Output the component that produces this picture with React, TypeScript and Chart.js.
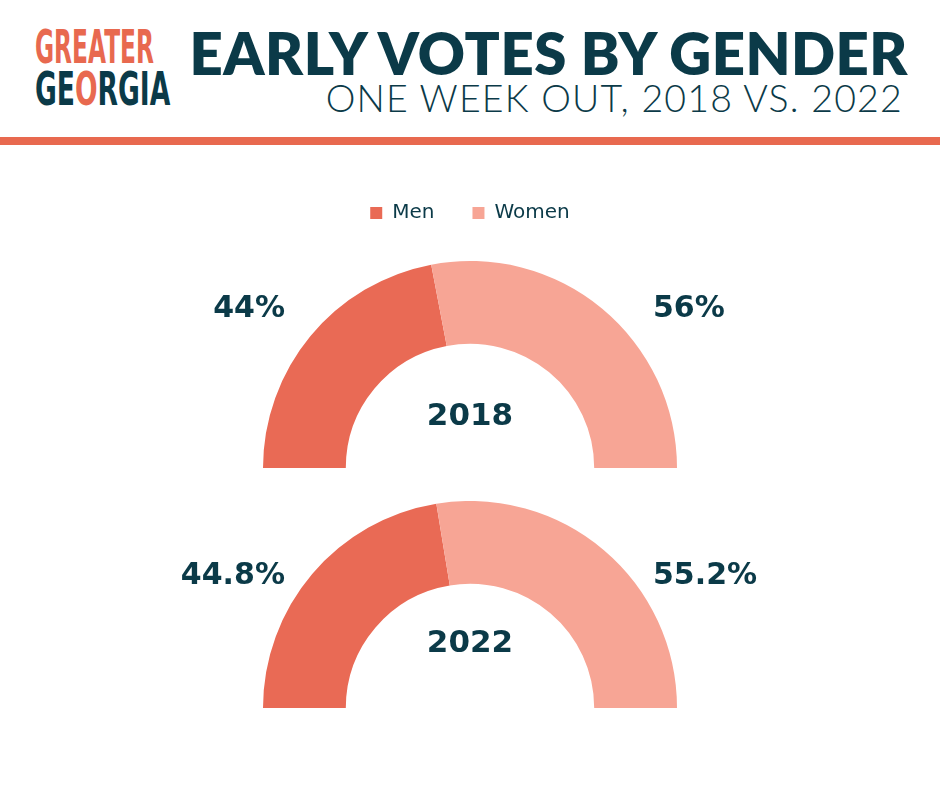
import React, { useEffect, useRef } from "react";
import { Chart, registerables } from "chart.js";

Chart.register(...registerables);

// ---- data ----
const genders = ["Men", "Women"];
const years = ["2018", "2022"];
const share2018 = [44, 56];
const share2022 = [44.8, 55.2];
const seriesColors = ["#e96a55", "#f7a595"];

const TEXT = "#0b3a48";
const ORANGE = "#e8694f";

const labelPlugin = {
  id: "gaugeLabels",
  afterDatasetsDraw(chart: any, _args: any, opts: any) {
    const arc = chart.getDatasetMeta(0).data[0] as any;
    if (!arc) return;
    const { x, y, outerRadius: r } = arc;
    const ctx = chart.ctx;
    const values = chart.data.datasets[0].data as number[];
    ctx.save();
    ctx.fillStyle = TEXT;
    ctx.textBaseline = "middle";
    ctx.font = `bold ${opts.valueSize}px "DejaVu Sans"`;
    const ly = y - opts.valueDy * r;
    ctx.textAlign = "right";
    ctx.fillText(`${values[0]}%`, x - opts.leftDx * r, ly);
    ctx.textAlign = "left";
    ctx.fillText(`${values[1]}%`, x + opts.rightDx * r, ly);
    ctx.textAlign = "center";
    ctx.font = `bold ${opts.yearSize}px "DejaVu Sans"`;
    ctx.fillText(opts.year, x, y - opts.yearDy * r);
    ctx.restore();
  },
};

type GaugeProps = {
  year: string;
  values: number[];
  legend: boolean;
  top: number;
  height: number;
  valueDy: number;
  yearDy: number;
};

function Gauge({ year, values, legend, top, height, valueDy, yearDy }: GaugeProps) {
  const ref = useRef<HTMLCanvasElement>(null);
  useEffect(() => {
    if (!ref.current) return;
    const chart = new Chart(ref.current, {
      type: "doughnut",
      data: {
        labels: genders,
        datasets: [
          {
            data: values,
            backgroundColor: seriesColors,
            borderWidth: 0,
            radius: 207,
          },
        ],
      },
      options: {
        responsive: false,
        animation: false,
        rotation: -90,
        circumference: 180,
        cutout: "60%",
        layout: { padding: 0 },
        plugins: {
          legend: {
            display: legend,
            position: "top",
            labels: {
              color: TEXT,
              boxWidth: 12,
              boxHeight: 12,
              padding: 38,
              font: { family: '"DejaVu Sans"', size: 20 },
            },
          },
          tooltip: { enabled: false },
          gaugeLabels: {
            year,
            valueSize: 30,
            yearSize: 31,
            leftDx: 0.894,
            rightDx: 0.884,
            valueDy,
            yearDy,
          },
        } as any,
      },
      plugins: [labelPlugin as any],
    });
    return () => chart.destroy();
  }, []);
  return (
    <canvas
      ref={ref}
      width={940}
      height={height}
      style={{ position: "absolute", left: 0, top, width: 940, height }}
    />
  );
}

export default function App() {
  return (
    <div
      style={{
        position: "fixed",
        left: 0,
        top: 0,
        width: 940,
        height: 788,
        background: "#ffffff",
        overflow: "hidden",
      }}
    >
      {/* logo */}
      <div
        style={{
          position: "absolute",
          left: 35,
          top: 24,
          fontFamily: '"DejaVu Sans", sans-serif',
          fontWeight: 700,
          fontSize: 46.6,
          lineHeight: 1,
          color: ORANGE,
          transform: "scaleX(0.5)",
          transformOrigin: "left top",
          whiteSpace: "nowrap",
        }}
      >
        GREATER
      </div>
      <div
        style={{
          position: "absolute",
          left: 35,
          top: 66,
          fontFamily: '"DejaVu Sans", sans-serif',
          fontWeight: 700,
          fontSize: 46.6,
          lineHeight: 1,
          color: TEXT,
          transform: "scaleX(0.57)",
          transformOrigin: "left top",
          whiteSpace: "nowrap",
        }}
      >
        GE<span style={{ color: ORANGE }}>O</span>RGIA
      </div>
      {/* titles */}
      <div
        style={{
          position: "absolute",
          right: 32,
          top: 24,
          fontFamily: "Lato, sans-serif",
          fontWeight: 800,
          fontSize: 58,
          lineHeight: 1,
          letterSpacing: 0.5,
          color: TEXT,
          whiteSpace: "nowrap",
        }}
      >
        EARLY VOTES BY GENDER
      </div>
      <div
        style={{
          position: "absolute",
          right: 37,
          top: 79,
          fontFamily: "Lato, sans-serif",
          fontWeight: 300,
          fontSize: 37.5,
          lineHeight: 1,
          letterSpacing: 1.2,
          color: TEXT,
          whiteSpace: "nowrap",
        }}
      >
        ONE WEEK OUT, 2018 VS. 2022
      </div>
      <div
        style={{
          position: "absolute",
          left: 0,
          top: 137,
          width: 940,
          height: 8,
          background: ORANGE,
        }}
      />
      <Gauge
        year={years[0]}
        values={share2018}
        legend={true}
        top={165}
        height={331}
        valueDy={0.768}
        yearDy={0.246}
      />
      <Gauge
        year={years[1]}
        values={share2022}
        legend={false}
        top={501}
        height={207}
        valueDy={0.638}
        yearDy={0.309}
      />
    </div>
  );
}
